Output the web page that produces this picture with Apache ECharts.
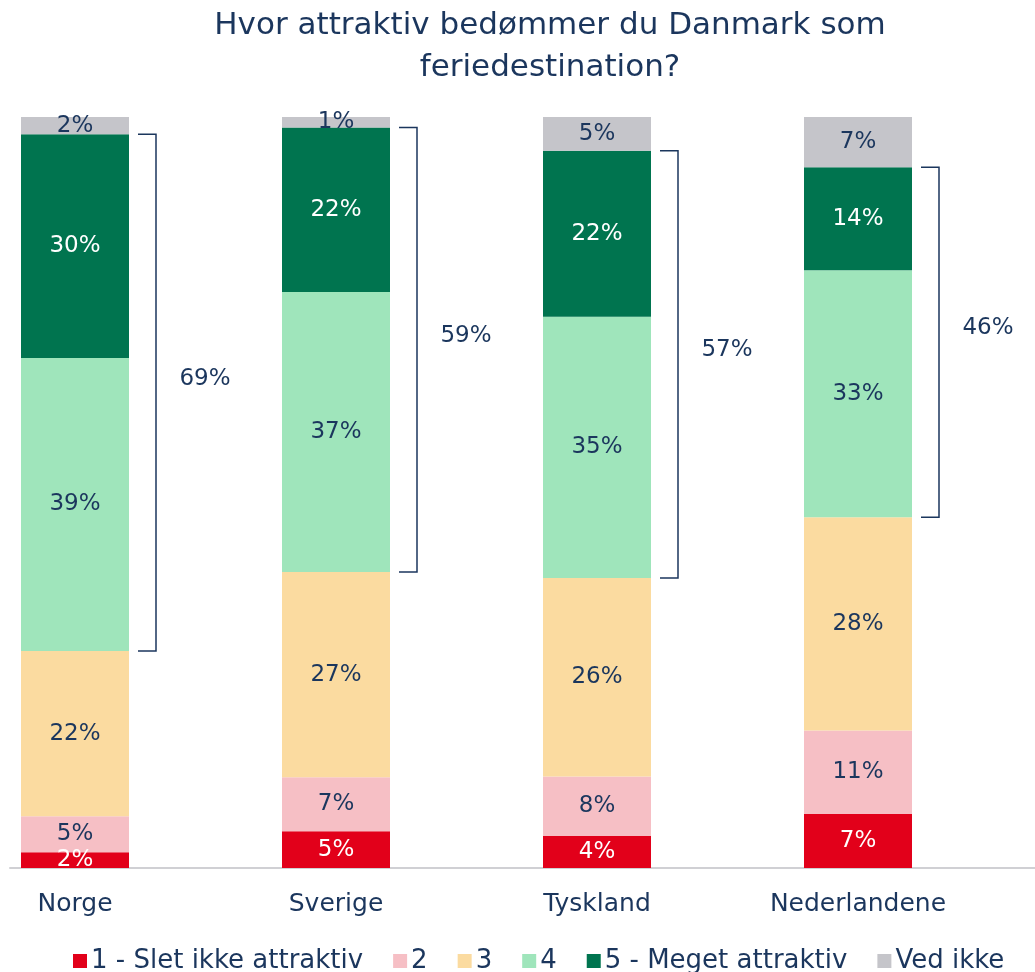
<!DOCTYPE html>
<html>
<head>
<meta charset="utf-8">
<script src="https://cdn.jsdelivr.net/npm/echarts@6/dist/echarts.min.js"></script>
<style>
  html, body { margin: 0; padding: 0; background: #fff; }
  #main { width: 1035px; height: 972px; }
</style>
</head>
<body>
<div id="main"></div>
<script>
const countries = ["Norge", "Sverige", "Tyskland", "Nederlandene"];
const seriesNames = ["1 - Slet ikke attraktiv", "2", "3", "4", "5 - Meget attraktiv", "Ved ikke"];
const s1 = [2.1, 4.9, 4.3, 7.2];
const s2 = [4.8, 7.2, 7.9, 11.1];
const s3 = [22.0, 27.3, 26.4, 28.4];
const s4 = [39.0, 37.3, 34.8, 32.9];
const s5 = [29.8, 21.9, 22.1, 13.7];
const dontKnow = [2.3, 1.4, 4.5, 6.7];
const topTwo = [69, 59, 57, 46];

const navy = "#1b365d";
const colors = ["#e2001a", "#f6bfc5", "#fbdba0", "#9fe5bb", "#00744f", "#c5c5ca"];
const labelColors = ["#fff", navy, navy, navy, "#fff", navy];
const font = "DejaVu Sans";

const chart = echarts.init(document.getElementById("main"));

const barSeries = [s1, s2, s3, s4, s5, dontKnow].map((data, i) => ({
  name: seriesNames[i],
  type: "bar",
  stack: "total",
  barWidth: 108,
  clip: false,
  data: data,
  itemStyle: { color: colors[i] },
  label: {
    show: true,
    position: "inside",
    color: labelColors[i],
    fontFamily: font,
    fontSize: 23,
    formatter: p => Math.round(p.value) + "%",
  },
}));

const bracketData = countries.map((c, i) => {
  const bottom = s1[i] + s2[i] + s3[i];
  return [i, bottom, bottom + s4[i] + s5[i], topTwo[i]];
});

const bracketSeries = {
  type: "custom",
  data: bracketData,
  clip: false,
  z: 10,
  renderItem: (params, api) => {
    const cx = api.coord([api.value(0), 0])[0];
    const yBottom = api.coord([api.value(0), api.value(1)])[1];
    const yTop = api.coord([api.value(0), api.value(2)])[1];
    const x = cx + 81;
    return {
      type: "group",
      children: [
        {
          type: "polyline",
          shape: { points: [[x - 18, yTop], [x, yTop], [x, yBottom], [x - 18, yBottom]] },
          style: { stroke: navy, lineWidth: 1.5, fill: null },
        },
        {
          type: "text",
          x: cx + 130,
          y: (yTop + yBottom) / 2 - 14,
          style: {
            text: api.value(3) + "%",
            fill: navy,
            font: "23px " + font,
            align: "center",
            verticalAlign: "middle",
          },
        },
      ],
    };
  },
};

const option = {
  animation: false,
  title: {
    text: "Hvor attraktiv bedømmer du Danmark som\nferiedestination?",
    left: 545,
    top: 0,
    textAlign: "center",
    textStyle: {
      color: navy,
      fontFamily: font,
      fontWeight: "normal",
      fontSize: 31,
      lineHeight: 42,
    },
  },
  legend: {
    data: seriesNames,
    left: 68,
    top: 943,
    width: 1400,
    itemWidth: 14,
    itemHeight: 14,
    itemGap: 30,
    icon: "rect",
    textStyle: { color: navy, fontFamily: font, fontSize: 26, padding: [0, 0, 0, -1] },
  },
  grid: [
    { left: 75, width: 783, top: 117, bottom: 104 },
    { left: 10, right: 0, top: 117, bottom: 104 },
  ],
  xAxis: [
    {
      type: "category",
      data: countries,
      gridIndex: 0,
      boundaryGap: false,
      axisLine: { show: false },
      axisTick: { show: false },
      axisLabel: { color: navy, fontFamily: font, fontSize: 25, margin: 24 },
    },
    {
      type: "value",
      gridIndex: 1,
      axisLine: { show: true, lineStyle: { color: "#d0d0d4", width: 2 } },
      axisTick: { show: false },
      axisLabel: { show: false },
      splitLine: { show: false },
    },
  ],
  yAxis: [
    { type: "value", gridIndex: 0, min: 0, max: 100, show: false },
    { type: "value", gridIndex: 1, show: false },
  ],
  series: [...barSeries, bracketSeries],
};

chart.setOption(option);
</script>
</body>
</html>
